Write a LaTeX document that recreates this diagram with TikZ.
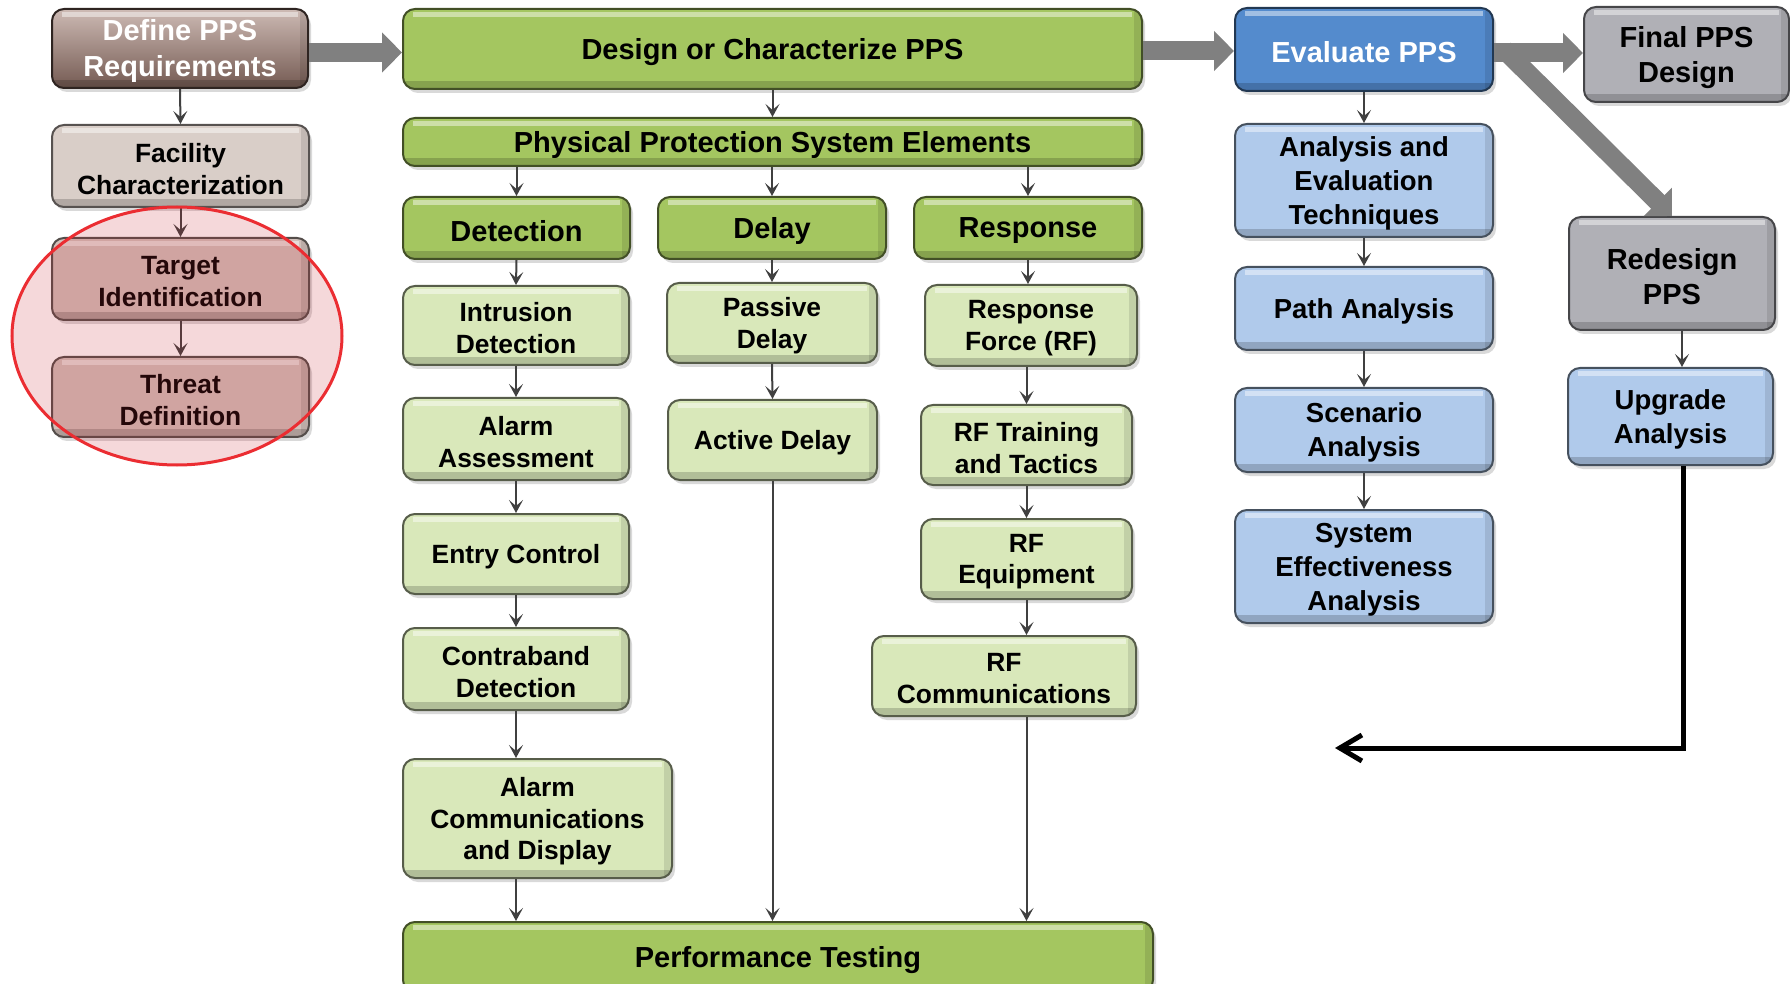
\documentclass[tikz,border=0pt]{standalone}
\usepackage{fontspec}
\setmainfont{Liberation Sans}
\usetikzlibrary{arrows.meta,shadows,calc}

% palette
\definecolor{headgreen}{RGB}{164,198,96}
\definecolor{subgreen}{RGB}{217,232,186}
\definecolor{evalblue}{RGB}{84,139,205}
\definecolor{subblue}{RGB}{176,202,235}
\definecolor{stepgray}{RGB}{176,176,182}
\definecolor{taupe}{RGB}{217,206,200}
\definecolor{rosebox}{RGB}{210,192,186}
\definecolor{browntop}{RGB}{205,186,180}
\definecolor{brownbot}{RGB}{116,90,82}
\definecolor{fatgray}{RGB}{128,128,128}
\definecolor{thingray}{RGB}{64,64,64}
\definecolor{ringred}{RGB}{235,45,50}
\definecolor{ringfill}{RGB}{200,40,50}

\newcommand\headfont{\fontsize{14.5}{17.5}\selectfont\bfseries}
\newcommand\deffont{\fontsize{14.5}{18.2}\selectfont\bfseries}
\newcommand\subfont{\fontsize{13.2}{15.8}\selectfont\bfseries}
\newcommand\bluefont{\fontsize{13.75}{17}\selectfont\bfseries}

% box from its corners (pixel units, y downwards); the label sits a little low
\newcommand\ppsbox[7]{%
  \pgfmathsetmacro\ppsw{(#4-#2)*0.5}%
  \pgfmathsetmacro\ppsh{(#5-#3)*0.5}%
  \node[#6 box, minimum width=\ppsw pt, minimum height=\ppsh pt] (#1)
    at ({(#2+#4)/2},{(#3+#5)/2}) {};%
  \node[#6 txt, inner sep=0pt, align=center] (#1-t)
    at ([yshift=-1.4pt]#1.center) {#7};%
}

\tikzset{
  bevel/.style={rounded corners=6pt, draw=#1!40!black, line width=1pt,
    inner sep=0pt,
    drop shadow={shadow xshift=1.5pt, shadow yshift=-2pt, opacity=0.3},
    path picture={
      \fill[sharp corners,white,opacity=0.45]
        ([xshift=5pt,yshift=-1.5pt]path picture bounding box.north west)
        rectangle ([xshift=-5pt,yshift=-4pt]path picture bounding box.north east);
      \fill[sharp corners,black,opacity=0.18]
        (path picture bounding box.south west)
        rectangle ([yshift=4pt]path picture bounding box.south east);
      \fill[sharp corners,black,opacity=0.10]
        ([xshift=-4pt]path picture bounding box.north east)
        rectangle (path picture bounding box.south east);
    }},
  head box/.style={bevel=headgreen, fill=headgreen},
  head txt/.style={font=\headfont},
  sub box/.style={bevel=subgreen, fill=subgreen},
  sub txt/.style={font=\subfont},
  blue box/.style={bevel=subblue, fill=subblue},
  blue txt/.style={font=\bluefont},
  eval box/.style={bevel=evalblue, fill=evalblue},
  eval txt/.style={font=\headfont, text=white},
  gray box/.style={bevel=stepgray, fill=stepgray},
  gray txt/.style={font=\headfont},
  taupe box/.style={bevel=taupe, fill=taupe},
  taupe txt/.style={font=\subfont},
  rosy box/.style={bevel=rosebox, fill=rosebox},
  rosy txt/.style={font=\subfont},
  brown box/.style={bevel=brownbot, top color=browntop, bottom color=brownbot},
  brown txt/.style={font=\deffont, text=white},
  link/.style={draw=thingray, line width=1pt,
    -{Stealth[length=6.5pt,width=7pt,inset=3pt]}},
  fatarrow/.style={draw=fatgray, line width=9.5pt,
    -{Triangle[length=10pt,width=19.5pt]}},
  feedback/.style={draw=black, line width=2.5pt,
    -{Straight Barb[length=11pt,width=13pt]}},
}

\begin{document}
\begin{tikzpicture}[x=0.5pt,y=-0.5pt]
\useasboundingbox (0,0) rectangle (1790,984);
\clip (0,0) rectangle (1790,984);

% requirements column
\ppsbox{def}{52}{9}{308}{88}{brown}{Define PPS\\Requirements}
\ppsbox{fac}{52}{125}{309}{207}{taupe}{Facility\\Characterization}
\ppsbox{tgt}{52}{238}{309}{320}{rosy}{Target\\Identification}
\ppsbox{thr}{52}{357}{309}{437}{rosy}{Threat\\Definition}

% design column
\ppsbox{design}{403}{9}{1142}{89}{head}{Design or Characterize PPS}
\ppsbox{ppse}{403}{118}{1142}{166}{head}{Physical Protection System Elements}
\ppsbox{det}{403}{197}{630}{259}{head}{Detection}
\ppsbox{del}{658}{197}{886}{259}{head}{Delay}
\ppsbox{resp}{914}{197}{1142}{259}{head}{Response}

\ppsbox{intr}{403}{286}{629}{365}{sub}{Intrusion\\Detection}
\ppsbox{alarm}{403}{398}{629}{480}{sub}{Alarm\\Assessment}
\ppsbox{entry}{403}{514}{629}{594}{sub}{Entry Control}
\ppsbox{contra}{403}{628}{629}{710}{sub}{Contraband\\Detection}
\ppsbox{acd}{403}{759}{672}{878}{sub}{Alarm\\Communications\\and Display}

\ppsbox{pass}{667}{283}{877}{363}{sub}{Passive\\Delay}
\ppsbox{active}{668}{400}{877}{480}{sub}{Active Delay}

\ppsbox{rff}{925}{285}{1137}{366}{sub}{Response\\Force (RF)}
\ppsbox{rft}{921}{405}{1132}{485}{sub}{RF Training\\and Tactics}
\ppsbox{rfe}{921}{519}{1132}{599}{sub}{RF\\Equipment}
\ppsbox{rfc}{872}{636}{1136}{716}{sub}{RF\\Communications}

\ppsbox{perf}{403}{922}{1153}{992}{head}{Performance Testing}

% evaluation column
\ppsbox{eval}{1235}{8}{1493}{91}{eval}{Evaluate PPS}
\ppsbox{aet}{1235}{124}{1493}{237}{blue}{Analysis and\\Evaluation\\Techniques}
\ppsbox{path}{1235}{267}{1493}{350}{blue}{Path Analysis}
\ppsbox{scen}{1235}{388}{1493}{472}{blue}{Scenario\\Analysis}
\ppsbox{sys}{1235}{510}{1493}{623}{blue}{System\\Effectiveness\\Analysis}

% outcome column
\ppsbox{final}{1584}{7}{1789}{102}{gray}{Final PPS\\Design}
\ppsbox{redes}{1569}{217}{1775}{330}{gray}{Redesign\\PPS}
\ppsbox{upg}{1568}{368}{1773}{465}{blue}{Upgrade\\Analysis}

% main flow
\draw[fatarrow] ([yshift=-2pt]def.east) -- ([yshift=-2pt]def.east -| design.west);
\draw[fatarrow] ([yshift=-1pt]design.east) -- ([yshift=-1pt]design.east -| eval.west);
\draw[fatarrow] ($(eval.east)+(0,3.5)$) -- ($(eval.east -| final.west)+(0,3.5)$);
\draw[fatarrow] ($(eval.east)+(10,0)$) -- (redes.north);

% requirements chain
\draw[link] (def.south) -- (fac.north);
\draw[link] (fac.south) -- (tgt.north);
\draw[link] (tgt.south) -- (thr.north);

% elements
\draw[link] (design.south) -- (ppse.north);
\draw[link] (ppse.south -| det.north) -- (det.north);
\draw[link] (ppse.south -| del.north) -- (del.north);
\draw[link] (ppse.south -| resp.north) -- (resp.north);

\draw[link] (det.south) -- (intr.north);
\draw[link] (intr.south) -- (alarm.north);
\draw[link] (alarm.south) -- (entry.north);
\draw[link] (entry.south) -- (contra.north);
\draw[link] (contra.south) -- (contra.south |- acd.north);
\draw[link] (acd.south -| contra.south) -- (contra.south |- perf.north);

\draw[link] (del.south) -- (pass.north);
\draw[link] (pass.south) -- (active.north);
\draw[link] (active.south) -- (active.south |- perf.north);

\draw[link] (resp.south) -- (resp.south |- rff.north);
\draw[link] (rff.south -| rft.north) -- (rft.north);
\draw[link] (rft.south) -- (rfe.north);
\draw[link] (rfe.south) -- (rfe.south |- rfc.north);
\draw[link] (rfc.south -| rfe.south) -- (rfe.south |- perf.north);

% evaluation chain
\draw[link] (eval.south) -- (aet.north);
\draw[link] (aet.south) -- (path.north);
\draw[link] (path.south) -- (scen.north);
\draw[link] (scen.south) -- (sys.north);
\draw[link] ([xshift=5pt]redes.south) -- ([xshift=5pt]redes.south |- upg.north);

% return path after the upgrade analysis
\coordinate (fbend) at (1335,748);
\draw[feedback] ([xshift=6.5pt]upg.south) |- (fbend);

% highlight around target and threat
\draw[ringred, line width=1.5pt, fill=ringfill, fill opacity=0.18]
  (177,336) ellipse [x radius=165, y radius=129];
\end{tikzpicture}
\end{document}
